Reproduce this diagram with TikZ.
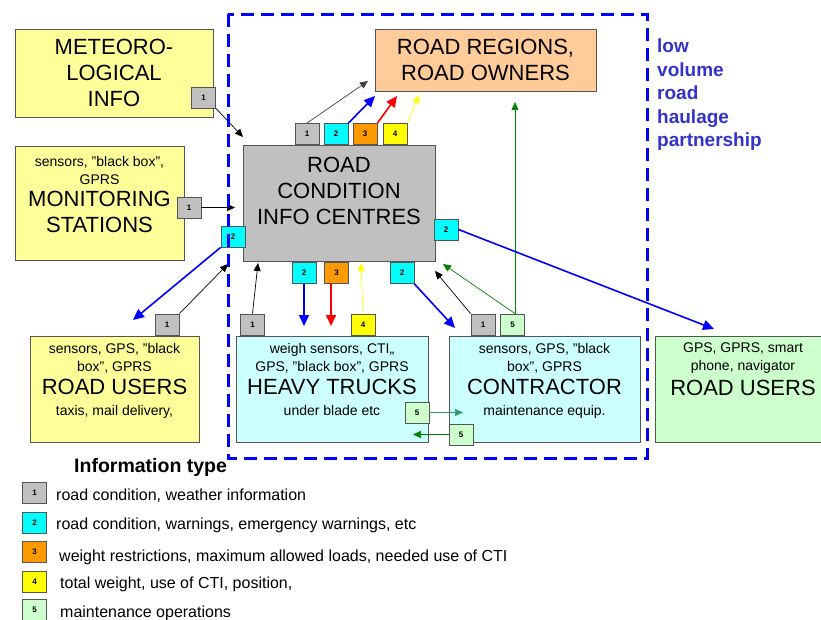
\documentclass[tikz,border=0pt]{standalone}
\usepackage{fontspec}
\setmainfont{Liberation Sans}
\usetikzlibrary{arrows.meta}
\usepackage{xcolor}
\definecolor{infogray}{HTML}{C0C0C0}
\definecolor{infocyan}{HTML}{00FFFF}
\definecolor{infoorange}{HTML}{FF9900}
\definecolor{infoyellow}{HTML}{FFFF00}
\definecolor{infogreen}{HTML}{CCFFCC}
\definecolor{paleyellow}{HTML}{FFFF99}
\definecolor{palecyan}{HTML}{CCFFFF}
\definecolor{peach}{HTML}{FFCC99}
\definecolor{partner}{HTML}{3333CC}
\definecolor{edgegray}{HTML}{555555}
\definecolor{midgreen}{HTML}{339966}
\definecolor{darkgreen}{HTML}{008000}
\newcommand{\boxsmall}{\fontsize{14}{17}\selectfont}
\newcommand{\boxlarge}{\fontsize{22}{26}\selectfont}
\tikzset{
  block/.style={draw=edgegray, line width=0.9pt, inner sep=0pt},
  tag/.style={draw=edgegray, line width=0.9pt, minimum width=24pt, minimum height=21pt, inner sep=0pt, font=\fontsize{8}{8}\selectfont\bfseries},
  boxtext/.style={align=center, inner sep=0pt, font=\boxsmall},
  keytext/.style={anchor=west, inner sep=0pt, font=\fontsize{16}{19}\selectfont},
  thinarr/.style={-{Triangle[length=8pt,width=7pt]}, line width=0.7pt},
  thickarr/.style={-{Triangle[length=11pt,width=10pt]}, line width=1.6pt},
}

\begin{document}
\begin{tikzpicture}[x=1pt,y=-1pt]
                \useasboundingbox (0,0) rectangle (821,619);

                \node[block, fill=paleyellow, minimum width=198pt, minimum height=88pt, font=\boxlarge, align=center] (meteo) at (114,73) {METEORO-\\LOGICAL\\INFO};
                \node[block, fill=paleyellow, minimum width=169pt, minimum height=114pt] (monitor) at (99.5,203) {};
                \node[block, fill=infogray, minimum width=192pt, minimum height=116pt] (rcic) at (339,203) {};
                \node[block, fill=peach, minimum width=221pt, minimum height=62pt, font=\boxlarge, align=center] (owners) at (485.5,60) {ROAD REGIONS,\\ROAD OWNERS};
                \node[block, fill=paleyellow, minimum width=169pt, minimum height=106pt] (users) at (114.5,389) {};
                \node[block, fill=palecyan, minimum width=192pt, minimum height=106pt] (trucks) at (332,389) {};
                \node[block, fill=palecyan, minimum width=191pt, minimum height=106pt] (contr) at (544.5,389) {};
                \node[block, fill=infogreen, minimum width=176pt, minimum height=106pt] (navusers) at (743,389) {};

                \node[boxtext, anchor=north] (monitor-txt) at (99.5,156) {sensors, ”black box”,\\[1pt]GPRS\\[5pt]{\boxlarge MONITORING}\\[9pt]{\boxlarge STATIONS}};
                \node[boxtext, anchor=north, font=\boxlarge] (rcic-txt) at (339,157) {ROAD\\CONDITION\\INFO CENTRES};
                \node[boxtext, anchor=north] (users-txt) at (114.5,343) {sensors, GPS, ”black\\[1pt]box”, GPRS\\[5pt]{\boxlarge ROAD USERS}\\[3.5pt]taxis, mail delivery,};
                \node[boxtext, anchor=north] (trucks-txt) at (332,343) {weigh sensors, CTI,,\\[1pt]GPS, ”black box”, GPRS\\[5pt]{\boxlarge HEAVY TRUCKS}\\[3.5pt]under blade etc};
                \node[boxtext, anchor=north] (contr-txt) at (544.5,343) {sensors, GPS, ”black\\[1pt]box”, GPRS\\[5pt]{\boxlarge CONTRACTOR}\\[3.5pt]maintenance equip.};
                \node[boxtext, anchor=north] (navusers-txt) at (743,343) {GPS, GPRS, smart\\[1pt]phone, navigator\\[5pt]{\boxlarge ROAD USERS}};

                \node[anchor=north west, inner sep=0pt, align=left, text=partner, font=\fontsize{19}{23.5}\selectfont\bfseries] (partner) at (657,39) {low\\volume\\road\\haulage\\partnership};

                \node[tag, fill=infogray] (meteo1) at (203.5,97.5) {1};
                \node[tag, fill=infogray] (monitor1) at (189,207.5) {1};
                \node[tag, fill=infogray] (top1) at (307,134) {1};
                \node[tag, fill=infocyan] (top2) at (336,134) {2};
                \node[tag, fill=infoorange] (top3) at (365,134) {3};
                \node[tag, fill=infoyellow] (top4) at (395,134) {4};
                \node[tag, fill=infocyan] (left2) at (233,236.5) {2};
                \node[tag, fill=infocyan] (right2) at (446,229.5) {2};
                \node[tag, fill=infocyan] (bot2) at (304,273) {2};
                \node[tag, fill=infoorange] (bot3) at (336.5,273) {3};
                \node[tag, fill=infocyan] (diag2) at (402,273) {2};
                \node[tag, fill=infogray] (users1) at (167,324.5) {1};
                \node[tag, fill=infogray] (trucks1) at (252.5,324.5) {1};
                \node[tag, fill=infoyellow] (trucks4) at (363,324.5) {4};
                \node[tag, fill=infogray] (contr1) at (483,324.5) {1};
                \node[tag, fill=infogreen] (contr5) at (512.5,324.5) {5};
                \node[tag, fill=infogreen] (trucks5) at (417,412.5) {5};
                \node[tag, fill=infogreen] (contr5b) at (461,434.5) {5};

                \coordinate (rcic-a) at (243,137);
                \coordinate (rcic-b) at (235,207.5);
                \coordinate (rcic-c) at (228,264);
                \coordinate (rcic-d) at (258,263);
                \coordinate (rcic-e) at (361,263);
                \coordinate (rcic-f) at (435,271);
                \coordinate (rcic-g) at (443,264);
                \coordinate (owners-a) at (368,81);
                \coordinate (owners-b) at (375,96);
                \coordinate (owners-c) at (397,96);
                \coordinate (owners-d) at (419,95);
                \coordinate (owners-e) at (515,102);
                \coordinate (users-a) at (133,320);
                \coordinate (trucks-a) at (304,326);
                \coordinate (trucks-b) at (331,326);
                \coordinate (trucks-c) at (413,431);
                \coordinate (contr-a) at (455,328);
                \coordinate (contr-b) at (463,412.5);
                \coordinate (navusers-a) at (714,329);

                \draw[thinarr] (meteo1.south east) -- (rcic-a);
                \draw[thinarr] (monitor1.east) -- (rcic-b);
                \draw[thinarr] (users1.north east) -- (rcic-c);
                \draw[thinarr] (trucks1.north) -- (rcic-d);
                \draw[thinarr, infoyellow] (trucks4.north) -- (rcic-e);
                \draw[thinarr] (contr1.north west) -- (rcic-f);
                \draw[thinarr, darkgreen] (owners-e |- contr5.north) -- (rcic-g);
                \draw[thinarr, black!75] (top1.north) -- (owners-a);
                \draw[thickarr, blue] (top2.north east) -- (owners-b);
                \draw[thickarr, red] (top3.north east) -- (owners-c);
                \draw[thinarr, infoyellow] (top4.north east) -- (owners-d);
                \draw[thinarr, darkgreen] (owners-e |- contr5.north) -- (owners-e);
                \draw[thickarr, blue] (left2.south west) -- (users-a);
                \draw[thickarr, blue] (bot2.south) -- (trucks-a);
                \draw[thickarr, red] (bot3.south -| trucks-b) -- (trucks-b);
                \draw[thickarr, blue] (diag2.south east) -- (contr-a);
                \draw[thickarr, blue] (right2.east) -- (navusers-a);
                \draw[thinarr, midgreen] (trucks5.east) -- (contr-b);
                \draw[thinarr, darkgreen] (contr5b.west) -- (contr5b.west -| trucks-c);

                \draw[blue, line width=3pt, dash pattern=on 13pt off 7pt] (228,14) rectangle (647,458);

                \node[anchor=west, inner sep=0pt, font=\fontsize{19.5}{22}\selectfont\bfseries] (legend) at (74,467) {Information type};
                \node[tag, fill=infogray] (key1) at (34.5,493) {1};
                \node[tag, fill=infocyan] (key2) at (34.5,522.5) {2};
                \node[tag, fill=infoorange] (key3) at (34.5,552) {3};
                \node[tag, fill=infoyellow] (key4) at (34.5,581.5) {4};
                \node[tag, fill=infogreen] (key5) at (34.5,610) {5};
                \node[keytext] (key1-txt) at (56,496) {road condition, weather information};
                \node[keytext] (key2-txt) at (56,525) {road condition, warnings, emergency warnings, etc};
                \node[keytext] (key3-txt) at (59,557) {weight restrictions, maximum allowed loads, needed use of CTI};
                \node[keytext] (key4-txt) at (60,584) {total weight, use of CTI, position,};
                \node[keytext] (key5-txt) at (60,613) {maintenance operations};
            \end{tikzpicture}
\end{document}
